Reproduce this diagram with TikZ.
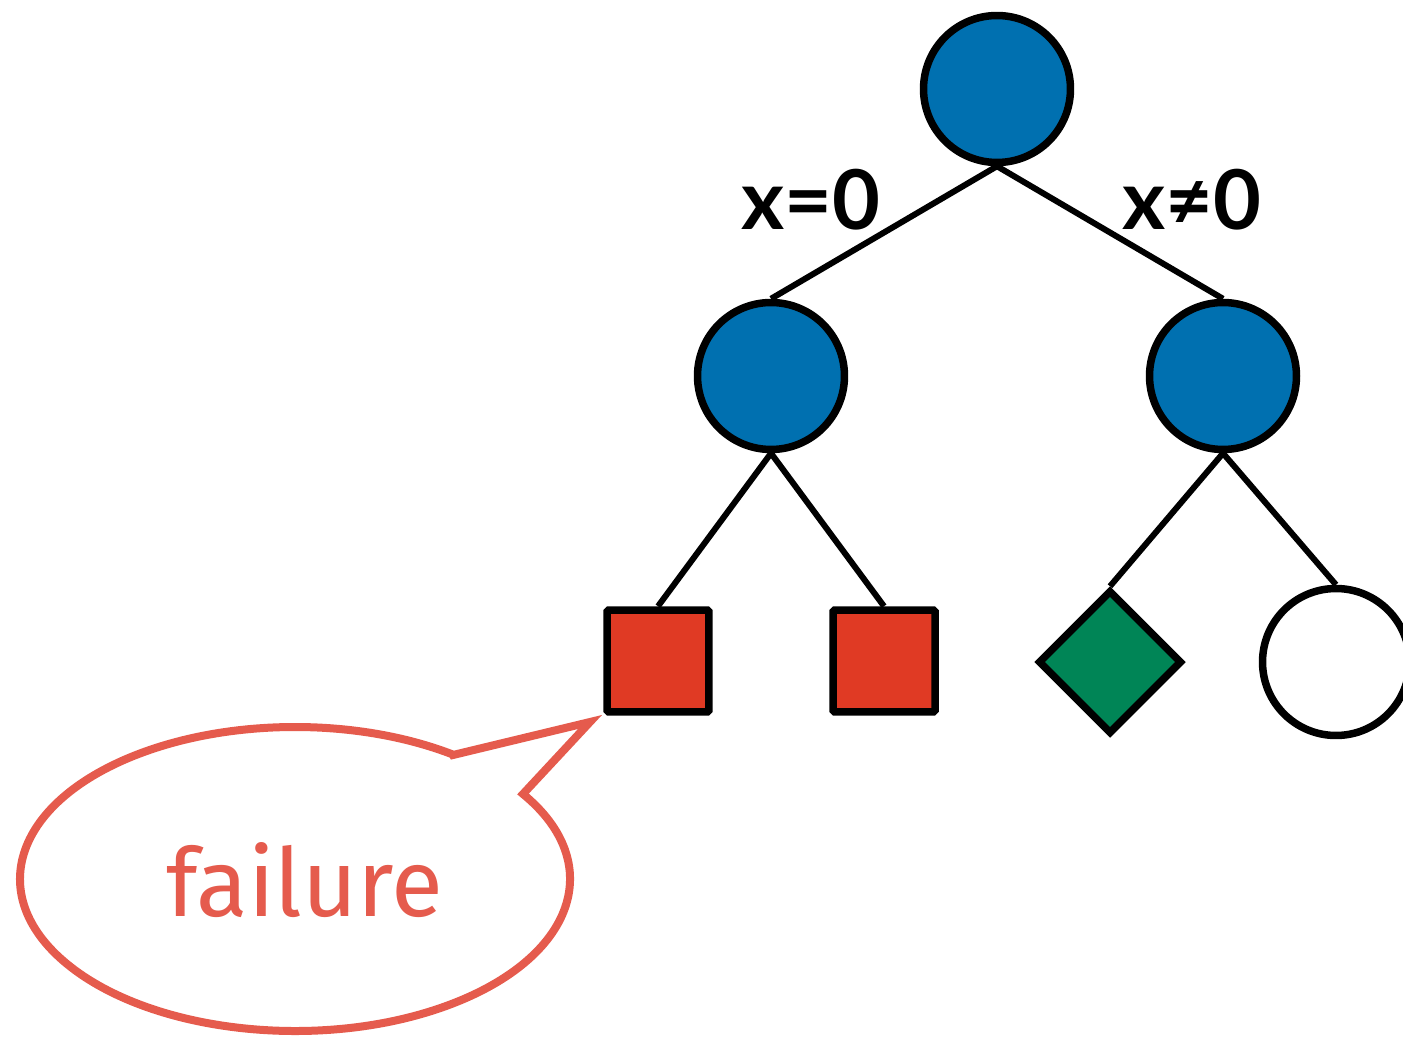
\documentclass[tikz,border=0pt]{standalone}
\usepackage{fontspec}
\setmainfont{Fira Sans}
\newfontfamily\labelfont{Lato}
\usetikzlibrary{shapes.geometric}
\definecolor{nodeblue}{RGB}{0,112,176}
\definecolor{leafred}{RGB}{224,58,36}
\definecolor{leafgreen}{RGB}{0,133,86}
\definecolor{calloutred}{RGB}{229,91,77}
\begin{document}
\begin{tikzpicture}[x=0.02cm,y=0.02cm,
  tree/.style={line width=0.15cm,draw=black},
  inner/.style={tree,circle,fill=nodeblue,minimum size=2.94cm,inner sep=0pt},
  fail/.style={tree,rectangle,fill=leafred,minimum size=2.04cm,inner sep=0pt,rounded corners=1pt},
  good/.style={tree,diamond,fill=leafgreen,minimum width=2.88cm,minimum height=2.88cm,inner sep=0pt,aspect=1},
  open/.style={tree,circle,fill=white,minimum size=2.94cm,inner sep=0pt},
  branch/.style={font=\labelfont\bfseries\fontsize{47}{52}\selectfont},
  edge/.style={line width=0.12cm}]
\useasboundingbox (0,0) rectangle (1403,1039);
% inner decision nodes
\node[inner] (root) at (997,950) {};
\node[inner] (l) at (771,663) {};
\node[inner] (r) at (1223,663) {};
% leaves
\node[fail] (ll) at (658,378) {};
\node[fail] (lr) at (884,378) {};
\node[good] (rl) at (1110,377) {};
\node[open] (rr) at (1336,377) {};
% branches
\draw[edge] (root.south) -- (l.north);
\draw[edge] (root.south) -- (r.north);
\draw[edge] (l.south) -- (ll.north);
\draw[edge] (l.south) -- (lr.north);
\draw[edge] (r.south) -- (rl.north);
\draw[edge] (r.south) -- (rr.north);
% branch labels
\node[branch] (eq) at (811,839) {x=0};
\node[branch] (neq) at (1192,839) {x≠0};
% speech bubble
\coordinate (tip) at (590,317);
\draw[calloutred,line width=0.16cm,line join=miter,fill=white]
  (453,284) -- (tip) -- (523,245)
  arc[start angle=34,end angle=-305,x radius=275,y radius=152] -- cycle;
\node[text=calloutred,font=\fontsize{54}{60}\selectfont] (msg) at (305,159) {failure};
\end{tikzpicture}
\end{document}
